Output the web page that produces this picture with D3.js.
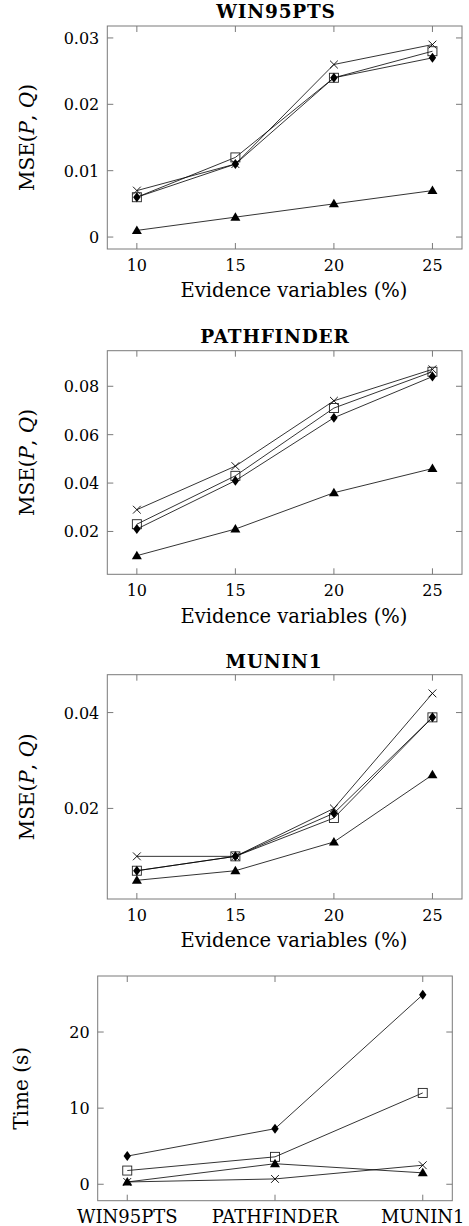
<!DOCTYPE html>
<html>
<head>
<meta charset="utf-8">
<script src="https://cdn.jsdelivr.net/npm/d3@7"></script>
<style>
  body { margin: 0; background: #fff; }
  svg { display: block; }
</style>
</head>
<body>
<div id="chart"></div>
<script>
// x values for the MSE panels
const evidencePct = [10, 15, 20, 25];

// WIN95PTS (MSE)
const win95Cross    = [0.007, 0.011, 0.026, 0.029];
const win95Square   = [0.006, 0.012, 0.024, 0.028];
const win95Diamond  = [0.006, 0.011, 0.024, 0.027];
const win95Triangle = [0.001, 0.003, 0.005, 0.007];

// PATHFINDER (MSE)
const pathCross    = [0.029, 0.047, 0.074, 0.087];
const pathSquare   = [0.023, 0.043, 0.071, 0.086];
const pathDiamond  = [0.021, 0.041, 0.067, 0.084];
const pathTriangle = [0.010, 0.021, 0.036, 0.046];

// MUNIN1 (MSE)
const muninCross    = [0.010, 0.010, 0.020, 0.044];
const muninSquare   = [0.007, 0.010, 0.018, 0.039];
const muninDiamond  = [0.007, 0.010, 0.019, 0.039];
const muninTriangle = [0.005, 0.007, 0.013, 0.027];

// Running time per network
const networks = ["WIN95PTS", "PATHFINDER", "MUNIN1"];
const timeCross    = [0.3, 0.7, 2.5];
const timeSquare   = [1.8, 3.6, 12.0];
const timeDiamond  = [3.7, 7.3, 24.9];
const timeTriangle = [0.3, 2.7, 1.5];

// tick labels
const win95Ticks = [0, 0.01, 0.02, 0.03];
const pathTicks = [0.02, 0.04, 0.06, 0.08];
const muninTicks = [0.02, 0.04];
const timeTicks = [0, 10, 20];

const W = 469, H = 1226;
const svg = d3.select("#chart").append("svg")
  .attr("width", W)
  .attr("height", H);

const serif = "DejaVu Serif";
const frameColor = "#7a7a7a";
const tickLen = 6;

// pgfplots style: data range enlarged by 10% on each side
function enlarged(vals) {
  const lo = d3.min(vals), hi = d3.max(vals);
  const pad = (hi - lo) * 0.1;
  return [lo - pad, hi + pad];
}

function marker(g, type, px, py) {
  if (type === "cross") {
    const r = 3.9;
    g.append("path")
      .attr("d", `M${px - r},${py - r}L${px + r},${py + r}M${px - r},${py + r}L${px + r},${py - r}`)
      .attr("stroke", "#000").attr("stroke-width", 0.9).attr("fill", "none");
  } else if (type === "square") {
    const r = 4.5;
    g.append("rect")
      .attr("x", px - r).attr("y", py - r)
      .attr("width", 2 * r).attr("height", 2 * r)
      .attr("fill", "none").attr("stroke", "#222").attr("stroke-width", 0.9);
  } else if (type === "diamond") {
    g.append("path")
      .attr("d", `M${px},${py - 5}L${px + 3.7},${py}L${px},${py + 5}L${px - 3.7},${py}Z`)
      .attr("fill", "#000");
  } else {
    g.append("path")
      .attr("d", `M${px},${py - 5}L${px + 5},${py + 3.5}L${px - 5},${py + 3.5}Z`)
      .attr("fill", "#000");
  }
}

function drawPanel(cfg) {
  const g = svg.append("g");
  const allY = cfg.series.flatMap(s => s.values);
  const x = d3.scaleLinear().domain(enlarged(cfg.xValues)).range([cfg.left, cfg.right]);
  const y = d3.scaleLinear().domain(enlarged(allY)).range([cfg.bottom, cfg.top]);

  // ticks inside the frame, on all four sides
  cfg.xValues.forEach(v => {
    g.append("line").attr("x1", x(v)).attr("x2", x(v))
      .attr("y1", cfg.bottom).attr("y2", cfg.bottom - tickLen)
      .attr("stroke", frameColor);
    g.append("line").attr("x1", x(v)).attr("x2", x(v))
      .attr("y1", cfg.top).attr("y2", cfg.top + tickLen)
      .attr("stroke", frameColor);
  });
  cfg.yTicks.forEach(v => {
    g.append("line").attr("x1", cfg.left).attr("x2", cfg.left + tickLen)
      .attr("y1", y(v)).attr("y2", y(v)).attr("stroke", frameColor);
    g.append("line").attr("x1", cfg.right).attr("x2", cfg.right - tickLen)
      .attr("y1", y(v)).attr("y2", y(v)).attr("stroke", frameColor);
  });

  g.append("rect")
    .attr("x", cfg.left).attr("y", cfg.top)
    .attr("width", cfg.right - cfg.left).attr("height", cfg.bottom - cfg.top)
    .attr("fill", "none").attr("stroke", frameColor).attr("stroke-width", 1);

  // tick labels
  g.selectAll(".ylab").data(cfg.yTicks).enter().append("text")
    .attr("x", cfg.left - 8)
    .attr("y", d => y(d) + 6)
    .attr("text-anchor", "end")
    .attr("font-family", serif)
    .attr("font-size", 16)
    .text(d => d === 0 ? "0" : cfg.yFormat(d));

  g.selectAll(".xlab").data(cfg.xValues).enter().append("text")
    .attr("x", d => x(d))
    .attr("y", cfg.bottom + 22)
    .attr("text-anchor", "middle")
    .attr("font-family", serif)
    .attr("font-size", cfg.xLabels ? 18 : 16)
    .text((d, i) => cfg.xLabels ? cfg.xLabels[i] : d);

  // series: line first, then its markers
  const line = d3.line().x((d, i) => x(cfg.xValues[i])).y(d => y(d));
  cfg.series.forEach(s => {
    g.append("path")
      .attr("d", line(s.values))
      .attr("fill", "none")
      .attr("stroke", "#000")
      .attr("stroke-width", 0.8);
    s.values.forEach((v, i) => marker(g, s.type, x(cfg.xValues[i]), y(v)));
  });

  if (cfg.title) {
    g.append("text")
      .attr("x", cfg.titleX)
      .attr("y", cfg.titleY)
      .attr("text-anchor", "middle")
      .attr("font-size", 18.5)
      .attr("letter-spacing", 0.8)
      .attr("font-weight", "bold")
      .attr("font-family", serif)
      .text(cfg.title);
  }

  if (cfg.xTitle) {
    g.append("text")
      .attr("x", 294)
      .attr("y", cfg.xTitleY)
      .attr("text-anchor", "middle")
      .attr("font-family", serif)
      .attr("font-size", 19.5)
      .text(cfg.xTitle);
  }

  const cy = (cfg.top + cfg.bottom) / 2;
  const yt = g.append("text")
    .attr("transform", `translate(${cfg.yTitleX},${cy}) rotate(-90)`)
    .attr("text-anchor", "middle")
    .attr("font-family", serif)
    .attr("font-size", 20);
  cfg.yTitle.forEach(part => {
    yt.append("tspan")
      .attr("font-style", part.italic ? "italic" : "normal")
      .text(part.t);
  });
}

const mseTitle = [
  { t: "MSE(" }, { t: "P", italic: true }, { t: ", " }, { t: "Q", italic: true }, { t: ")" }
];

function mseSeries(c, s, d, t) {
  return [
    { type: "cross", values: c },
    { type: "square", values: s },
    { type: "diamond", values: d },
    { type: "triangle", values: t }
  ];
}

drawPanel({
  title: "WIN95PTS", titleX: 276, titleY: 18,
  left: 107.3, right: 462, top: 26, bottom: 249,
  xValues: evidencePct, yTicks: win95Ticks, yFormat: d3.format(".2f"),
  series: mseSeries(win95Cross, win95Square, win95Diamond, win95Triangle),
  xTitle: "Evidence variables (%)", xTitleY: 297,
  yTitle: mseTitle, yTitleX: 34
});

drawPanel({
  title: "PATHFINDER", titleX: 275, titleY: 342.5,
  left: 107.3, right: 462, top: 350.7, bottom: 574.3,
  xValues: evidencePct, yTicks: pathTicks, yFormat: d3.format(".2f"),
  series: mseSeries(pathCross, pathSquare, pathDiamond, pathTriangle),
  xTitle: "Evidence variables (%)", xTitleY: 622.5,
  yTitle: mseTitle, yTitleX: 34
});

drawPanel({
  title: "MUNIN1", titleX: 274, titleY: 668,
  left: 107.3, right: 462, top: 674.7, bottom: 899,
  xValues: evidencePct, yTicks: muninTicks, yFormat: d3.format(".2f"),
  series: mseSeries(muninCross, muninSquare, muninDiamond, muninTriangle),
  xTitle: "Evidence variables (%)", xTitleY: 946.5,
  yTitle: mseTitle, yTitleX: 34
});

drawPanel({
  left: 97.7, right: 452.3, top: 976, bottom: 1200.7,
  xValues: [1, 2, 3], xLabels: networks,
  yTicks: timeTicks, yFormat: d3.format("d"),
  series: mseSeries(timeCross, timeSquare, timeDiamond, timeTriangle),
  yTitle: [{ t: "Time (s)" }], yTitleX: 28
});
</script>
</body>
</html>
